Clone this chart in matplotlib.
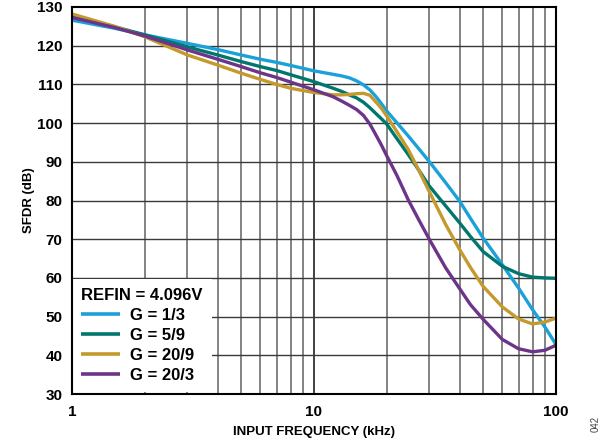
import matplotlib
matplotlib.use("Agg")
import matplotlib.pyplot as plt
from matplotlib.ticker import FixedLocator, NullFormatter

plt.rcParams['font.family'] = ['Liberation Sans', 'DejaVu Sans']

freq_khz = [1, 1.5, 2, 3, 4, 5, 6, 7, 8, 10, 12, 13, 14, 15, 16, 17, 18, 19, 20,
            22, 24.5, 27, 30, 35, 40, 44.3, 50, 60, 70, 80, 90, 100]

sfdr_g_1_3 = [126.6, 124.5, 122.8, 120.6, 119.0, 117.6, 116.5, 115.7, 114.9, 113.5,
              112.6, 112.2, 111.7, 110.9, 109.9, 108.6, 106.9, 105.0, 103.1,
              100.1, 96.7, 93.5, 90.0, 84.6, 79.8, 75.4, 70.3, 63.4, 57.4, 51.8, 47.3, 42.8]
sfdr_g_5_9 = [127.4, 124.9, 122.8, 119.7, 117.6, 115.9, 114.6, 113.6, 112.5, 110.7,
              109.0, 108.2, 107.3, 106.5, 105.4, 104.0, 102.5, 101.1, 99.7,
              96.0, 91.9, 88.0, 83.7, 78.6, 74.2, 70.7, 66.8, 63.0, 61.1, 60.2, 60.0, 59.9]
sfdr_g_20_9 = [128.2, 125.0, 122.3, 117.6, 115.0, 112.9, 111.3, 110.0, 109.0, 107.9,
               107.3, 107.3, 107.4, 107.6, 107.7, 107.2, 105.5, 103.8, 101.8,
               97.8, 93.2, 88.0, 82.2, 73.8, 67.3, 62.7, 57.8, 52.5, 49.4, 48.1, 48.6, 49.6]
sfdr_g_20_3 = [127.3, 124.7, 122.5, 118.9, 116.5, 114.6, 113.0, 111.8, 110.6, 108.6,
               106.8, 105.7, 104.6, 103.5, 102.0, 99.8, 97.0, 94.3, 91.5,
               86.5, 80.2, 75.2, 69.9, 62.6, 57.2, 53.1, 49.3, 44.1, 41.7, 40.9, 41.3, 42.6]

series_labels = ["G = 1/3", "G = 5/9", "G = 20/9", "G = 20/3"]
series_colors = ["#1BA1DA", "#00776E", "#C49A2C", "#6C3589"]
y_ticks = [30, 40, 50, 60, 70, 80, 90, 100, 110, 120, 130]
x_ticks = [1, 10, 100]
x_tick_labels = ["1", "10", "100"]

fig = plt.figure(figsize=(6.16, 4.46), dpi=100)
ax = fig.add_axes([72/616, 52/446, 484/616, 387/446])

# grid lines
minor = [m * d for d in (1, 10) for m in range(2, 10)]
for xv in minor:
    ax.axvline(xv, color="#7a7a7a", lw=1.3, zorder=1)
ax.axvline(10, color="#333333", lw=1.3, zorder=1)
for yv in y_ticks[1:-1]:
    ax.axhline(yv, color="#3a3a3a", lw=1.0, zorder=1)

all_series = [sfdr_g_1_3, sfdr_g_5_9, sfdr_g_20_9, sfdr_g_20_3]
handles = []
for vals, lab, col in zip(all_series, series_labels, series_colors):
    h, = ax.plot(freq_khz, vals, color=col, lw=2.4, label=lab, zorder=3,
                 solid_joinstyle="round", solid_capstyle="butt")
    handles.append(h)

ax.set_xscale("log")
ax.set_xlim(1, 100)
ax.set_ylim(30, 130)
ax.xaxis.set_major_locator(FixedLocator(x_ticks))
ax.set_xticklabels(x_tick_labels)
ax.xaxis.set_minor_formatter(NullFormatter())
ax.set_yticks(y_ticks)
ax.tick_params(which="both", length=0, labelsize=11, pad=7)
for lbl in ax.get_xticklabels() + ax.get_yticklabels():
    lbl.set_fontweight("bold")
ax.tick_params(axis="x", pad=8)

for sp in ax.spines.values():
    sp.set_linewidth(1.5)
    sp.set_color("black")
    sp.set_zorder(5)

ax.set_xlabel("INPUT FREQUENCY (kHz)", fontsize=9.5, fontweight="bold", labelpad=5)
ax.set_ylabel("SFDR (dB)", fontsize=9.5, fontweight="bold", labelpad=1.5)

leg = ax.legend(handles=handles, title="REFIN = 4.096V", loc="lower left",
                bbox_to_anchor=(0.0, 0.004), frameon=True, fancybox=False,
                framealpha=1, edgecolor="none", facecolor="white",
                prop={"weight": "bold", "size": 12}, handlelength=2.35,
                handletextpad=0.6, labelspacing=0.3, borderpad=0.55,
                borderaxespad=0.0, alignment="left")
leg.get_title().set_fontweight("bold")
leg.get_title().set_fontsize(12)
leg.set_zorder(4)
for lh in leg.get_lines():
    lh.set_linewidth(2.6)

fig.text(596/616, 1 - 424/446, "042", rotation=90, fontsize=7, color="#444444",
         ha="center", va="center")

fig.savefig("out.png", dpi=100)
